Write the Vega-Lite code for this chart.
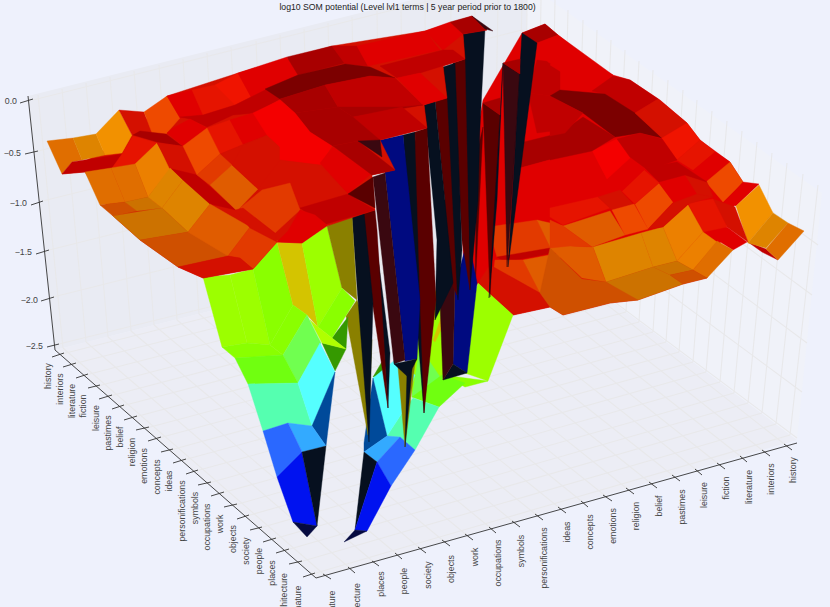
{"$schema":"https://vega.github.io/schema/vega-lite/v6.json","width":830,"height":607,"autosize":"none","padding":0,"background":"#eef1fc","config":{"view":{"stroke":null}},"layer":[
{"data":{"values":[{"type":"Feature","name":"left wall","geometry":{"type":"Polygon","coordinates":[[[28,96],[412,0],[527,0],[521,233],[55,350],[28,96]]]}}]},"mark":{"type":"geoshape","fill":"#e9ebf3","stroke":null},"projection":{"type":"identity","scale":1,"translate":[0,0]}},
{"data":{"values":[{"type":"Feature","name":"right wall","geometry":{"type":"Polygon","coordinates":[[[527,0],[550,0],[822,193],[797,440],[521,233],[527,0]]]}}]},"mark":{"type":"geoshape","fill":"#f0f2f9","stroke":null},"projection":{"type":"identity","scale":1,"translate":[0,0]}},
{"data":{"values":[{"type":"Feature","name":"floor","geometry":{"type":"Polygon","coordinates":[[[55,350],[316,578],[797,440],[521,233],[55,350]]]}}]},"mark":{"type":"geoshape","fill":"#ecedf5","stroke":null},"projection":{"type":"identity","scale":1,"translate":[0,0]}},
{"data":{"values":[
{"type":"Feature","name":"floor terms a","geometry":{"type":"MultiLineString","coordinates":[[[58,355],[525,237]],[[69,365],[537,246]],[[82,376],[550,255]],[[94,387],[562,265]],[[106,397],[575,274]],[[118,407],[588,284]],[[131,418],[600,293]],[[143,429],[613,303]],[[155,439],[626,312]],[[167,451],[639,322]],[[180,461],[653,332]],[[192,472],[666,342]],[[205,484],[679,352]],[[218,494],[693,362]],[[231,506],[706,372]],[[243,517],[720,382]],[[256,529],[734,393]],[[270,540],[748,403]],[[283,551],[762,413]],[[296,563],[776,424]],[[309,575],[790,435]]]}},
{"type":"Feature","name":"floor terms b","geometry":{"type":"MultiLineString","coordinates":[[[327,577],[63,348]],[[352,570],[86,342]],[[376,564],[108,337]],[[399,556],[131,331]],[[422,550],[154,325]],[[446,543],[177,320]],[[469,537],[199,314]],[[493,530],[222,308]],[[516,524],[245,302]],[[539,517],[267,297]],[[562,510],[290,291]],[[585,504],[313,285]],[[608,498],[335,280]],[[630,491],[358,274]],[[653,485],[381,268]],[[676,478],[404,263]],[[699,472],[426,257]],[[721,466],[449,251]],[[744,459],[472,245]],[[766,453],[494,240]],[[788,447],[517,234]]]}},
{"type":"Feature","name":"left wall terms","geometry":{"type":"MultiLineString","coordinates":[[[63,348],[38,95]],[[86,342],[62,89]],[[108,337],[86,83]],[[131,331],[110,77]],[[154,325],[134,71]],[[177,320],[159,65]],[[199,314],[183,59]],[[222,308],[207,53]],[[245,302],[231,47]],[[267,297],[256,41]],[[290,291],[280,35]],[[313,285],[304,29]],[[335,280],[328,23]],[[358,274],[352,17]],[[381,268],[377,11]],[[404,263],[401,5]],[[426,257],[425,0]],[[449,251],[451,0]],[[472,245],[475,0]],[[494,240],[498,0]],[[517,234],[522,0]]]}},
{"type":"Feature","name":"right wall terms","geometry":{"type":"MultiLineString","coordinates":[[[525,237],[527,0]],[[537,246],[541,0]],[[550,255],[555,0]],[[562,265],[568,10]],[[575,274],[583,20]],[[588,284],[597,30]],[[600,293],[611,40]],[[613,303],[625,50]],[[626,312],[639,61]],[[639,322],[653,70]],[[653,332],[668,80]],[[666,342],[683,90]],[[679,352],[697,100]],[[693,362],[712,111]],[[706,372],[727,121]],[[720,382],[742,131]],[[734,393],[757,142]],[[748,403],[772,153]],[[762,413],[787,163]],[[776,424],[803,174]],[[790,435],[818,185]]]}},
{"type":"Feature","name":"z levels","geometry":{"type":"MultiLineString","coordinates":[[[33,100],[433,0]],[[38,151],[522,30]],[[43,201],[522,81]],[[49,250],[522,132]],[[53,297],[522,180]],[[59,344],[522,230]],[[522,30],[818,245]],[[522,81],[812,295]],[[522,132],[807,343]],[[522,185],[802,392]],[[522,233],[797,438]]]}}
]},"mark":{"type":"geoshape","filled":false,"stroke":"#e8e8ea","strokeWidth":1.1},"projection":{"type":"identity","scale":1,"translate":[0,0]}},
{"data":{"values":[
{"type":"Feature","tone":"r2","geometry":{"type":"Polygon","coordinates":[[[522,33],[545,24],[558,35],[613,75],[630,80],[660,100],[687,123],[700,140],[730,162],[743,182],[707,278],[683,284],[638,300],[610,303],[563,315],[550,307],[513,315],[478,283],[465,200],[483,100],[522,33]]]}},
{"type":"Feature","tone":"r4","geometry":{"type":"Polygon","coordinates":[[[537,60],[560,63],[560,97],[528,93],[537,60]]]}},
{"type":"Feature","tone":"r4","geometry":{"type":"Polygon","coordinates":[[[528,93],[560,97],[560,130],[537,133],[528,93]]]}},
{"type":"Feature","tone":"r5","geometry":{"type":"Polygon","coordinates":[[[520,143],[560,133],[560,157],[520,168],[520,143]]]}},
{"type":"Feature","tone":"r2","geometry":{"type":"Polygon","coordinates":[[[520,168],[560,157],[560,197],[510,210],[520,168]]]}},
{"type":"Feature","tone":"r2","geometry":{"type":"Polygon","coordinates":[[[480,210],[510,205],[560,197],[560,220],[488,228],[480,210]]]}},
{"type":"Feature","tone":"o8","geometry":{"type":"Polygon","coordinates":[[[488,227],[537,220],[553,253],[497,257],[488,227]]]}},
{"type":"Feature","tone":"o5","geometry":{"type":"Polygon","coordinates":[[[537,220],[563,226],[573,246],[553,253],[537,220]]]}},
{"type":"Feature","tone":"r4","geometry":{"type":"Polygon","coordinates":[[[497,257],[550,248],[553,253],[505,262],[497,257]]]}},
{"type":"Feature","tone":"o8","geometry":{"type":"Polygon","coordinates":[[[495,260],[523,260],[540,293],[490,300],[495,260]]]}},
{"type":"Feature","tone":"o5","geometry":{"type":"Polygon","coordinates":[[[523,260],[560,253],[560,290],[540,293],[523,260]]]}},
{"type":"Feature","tone":"r3","geometry":{"type":"Polygon","coordinates":[[[478,283],[490,265],[540,293],[550,307],[513,315],[478,283]]]}},
{"type":"Feature","tone":"r5","geometry":{"type":"Polygon","coordinates":[[[522,33],[545,24],[558,35],[535,44],[522,33]]]}},
{"type":"Feature","tone":"r2","geometry":{"type":"Polygon","coordinates":[[[537,43],[558,35],[573,47],[590,62],[570,75],[548,62],[537,43]]]}},
{"type":"Feature","tone":"r2","geometry":{"type":"Polygon","coordinates":[[[550,65],[563,50],[613,75],[592,91],[550,65]]]}},
{"type":"Feature","tone":"r4","geometry":{"type":"Polygon","coordinates":[[[592,91],[613,76],[630,80],[658,99],[635,113],[605,94],[592,91]]]}},
{"type":"Feature","tone":"r6","geometry":{"type":"Polygon","coordinates":[[[550,96],[560,90],[605,94],[635,113],[662,138],[640,133],[615,137],[583,113],[550,96]]]}},
{"type":"Feature","tone":"r3","geometry":{"type":"Polygon","coordinates":[[[635,113],[658,99],[687,123],[662,138],[635,113]]]}},
{"type":"Feature","tone":"r1","geometry":{"type":"Polygon","coordinates":[[[662,138],[687,123],[700,140],[677,160],[662,138]]]}},
{"type":"Feature","tone":"rc","geometry":{"type":"Polygon","coordinates":[[[677,160],[700,140],[715,152],[693,170],[677,160]]]}},
{"type":"Feature","tone":"r2","geometry":{"type":"Polygon","coordinates":[[[693,171],[715,152],[730,162],[706,182],[693,171]]]}},
{"type":"Feature","tone":"o7","geometry":{"type":"Polygon","coordinates":[[[706,182],[730,162],[743,182],[723,202],[706,182]]]}},
{"type":"Feature","tone":"r2","geometry":{"type":"Polygon","coordinates":[[[725,203],[743,182],[759,184],[736,206],[725,203]]]}},
{"type":"Feature","tone":"r4","geometry":{"type":"Polygon","coordinates":[[[748,242],[766,249],[778,260],[762,252],[748,242]]]}},
{"type":"Feature","tone":"o1","geometry":{"type":"Polygon","coordinates":[[[736,206],[759,185],[773,213],[748,243],[736,206]]]}},
{"type":"Feature","tone":"o2","geometry":{"type":"Polygon","coordinates":[[[748,243],[773,213],[788,223],[766,248],[748,243]]]}},
{"type":"Feature","tone":"o3","geometry":{"type":"Polygon","coordinates":[[[766,249],[788,223],[804,231],[778,260],[766,249]]]}},
{"type":"Feature","tone":"r3","geometry":{"type":"Polygon","coordinates":[[[713,199],[735,207],[748,242],[727,227],[713,199]]]}},
{"type":"Feature","tone":"r2","geometry":{"type":"Polygon","coordinates":[[[705,232],[727,227],[747,242],[733,250],[717,240],[705,232]]]}},
{"type":"Feature","tone":"rc","geometry":{"type":"Polygon","coordinates":[[[688,203],[713,199],[727,227],[703,232],[688,203]]]}},
{"type":"Feature","tone":"o1b","geometry":{"type":"Polygon","coordinates":[[[663,227],[688,205],[703,232],[677,261],[663,227]]]}},
{"type":"Feature","tone":"o1b","geometry":{"type":"Polygon","coordinates":[[[677,261],[703,232],[717,242],[693,270],[677,261]]]}},
{"type":"Feature","tone":"o3","geometry":{"type":"Polygon","coordinates":[[[693,270],[717,241],[733,250],[707,278],[693,270]]]}},
{"type":"Feature","tone":"o2","geometry":{"type":"Polygon","coordinates":[[[641,233],[663,227],[677,261],[653,267],[641,233]]]}},
{"type":"Feature","tone":"o2","geometry":{"type":"Polygon","coordinates":[[[593,247],[641,233],[653,267],[606,282],[593,247]]]}},
{"type":"Feature","tone":"o4","geometry":{"type":"Polygon","coordinates":[[[606,282],[653,267],[670,275],[683,284],[638,300],[633,300],[606,282]]]}},
{"type":"Feature","tone":"o4","geometry":{"type":"Polygon","coordinates":[[[653,267],[677,261],[693,270],[670,275],[653,267]]]}},
{"type":"Feature","tone":"o6","geometry":{"type":"Polygon","coordinates":[[[670,275],[693,270],[707,278],[683,284],[670,275]]]}},
{"type":"Feature","tone":"o7","geometry":{"type":"Polygon","coordinates":[[[635,204],[659,183],[673,202],[648,229],[635,204]]]}},
{"type":"Feature","tone":"r2","geometry":{"type":"Polygon","coordinates":[[[659,183],[685,175],[697,193],[674,203],[659,183]]]}},
{"type":"Feature","tone":"r3","geometry":{"type":"Polygon","coordinates":[[[685,175],[707,182],[713,197],[697,194],[685,175]]]}},
{"type":"Feature","tone":"r3","geometry":{"type":"Polygon","coordinates":[[[673,203],[697,194],[713,197],[688,204],[663,227],[648,229],[673,203]]]}},
{"type":"Feature","tone":"rc","geometry":{"type":"Polygon","coordinates":[[[622,191],[644,170],[659,183],[635,204],[622,191]]]}},
{"type":"Feature","tone":"r2","geometry":{"type":"Polygon","coordinates":[[[607,179],[630,158],[644,170],[622,191],[607,179]]]}},
{"type":"Feature","tone":"rb","geometry":{"type":"Polygon","coordinates":[[[592,151],[617,139],[630,158],[607,179],[592,151]]]}},
{"type":"Feature","tone":"r4","geometry":{"type":"Polygon","coordinates":[[[617,139],[640,133],[662,139],[677,160],[658,167],[645,168],[630,157],[617,139]]]}},
{"type":"Feature","tone":"r4","geometry":{"type":"Polygon","coordinates":[[[645,168],[677,162],[707,182],[685,175],[659,182],[645,168]]]}},
{"type":"Feature","tone":"r2","geometry":{"type":"Polygon","coordinates":[[[550,160],[592,151],[605,178],[550,197],[550,160]]]}},
{"type":"Feature","tone":"r5","geometry":{"type":"Polygon","coordinates":[[[550,140],[583,117],[615,137],[592,151],[550,160],[550,140]]]}},
{"type":"Feature","tone":"r4","geometry":{"type":"Polygon","coordinates":[[[550,96],[583,113],[565,133],[550,136],[550,96]]]}},
{"type":"Feature","tone":"r2","geometry":{"type":"Polygon","coordinates":[[[550,197],[605,180],[620,190],[550,207],[550,197]]]}},
{"type":"Feature","tone":"rc","geometry":{"type":"Polygon","coordinates":[[[550,208],[598,197],[610,208],[563,225],[550,217],[550,208]]]}},
{"type":"Feature","tone":"r3","geometry":{"type":"Polygon","coordinates":[[[598,197],[620,190],[633,204],[612,210],[598,197]]]}},
{"type":"Feature","tone":"o5","geometry":{"type":"Polygon","coordinates":[[[563,226],[610,211],[625,235],[592,247],[563,226]]]}},
{"type":"Feature","tone":"o7","geometry":{"type":"Polygon","coordinates":[[[612,210],[634,204],[648,229],[625,235],[612,210]]]}},
{"type":"Feature","tone":"o5","geometry":{"type":"Polygon","coordinates":[[[550,248],[570,246],[593,247],[606,282],[582,278],[550,248]]]}},
{"type":"Feature","tone":"o8","geometry":{"type":"Polygon","coordinates":[[[550,220],[563,226],[592,247],[570,246],[550,248],[550,220]]]}},
{"type":"Feature","tone":"o6","geometry":{"type":"Polygon","coordinates":[[[550,248],[582,279],[606,282],[638,300],[610,303],[563,315],[550,307],[540,293],[550,248]]]}},
{"type":"Feature","tone":"y1","geometry":{"type":"Polygon","coordinates":[[[478,283],[492,296],[513,315],[488,381],[462,372],[466,330],[478,283]]]}},
{"type":"Feature","tone":"y1","geometry":{"type":"Polygon","coordinates":[[[438,287],[445,300],[443,375],[412,397],[412,330],[438,287]]]}},
{"type":"Feature","tone":"y2","geometry":{"type":"Polygon","coordinates":[[[433,340],[442,315],[441,330],[435,342],[433,340]]]}},
{"type":"Feature","tone":"g3","geometry":{"type":"Polygon","coordinates":[[[443,375],[488,381],[465,387],[443,375]]]}},
{"type":"Feature","tone":"g1","geometry":{"type":"Polygon","coordinates":[[[420,347],[442,380],[433,397],[412,397],[420,347]]]}},
{"type":"Feature","tone":"g2","geometry":{"type":"Polygon","coordinates":[[[442,375],[465,383],[439,407],[412,397],[442,375]]]}},
{"type":"Feature","tone":"c2","geometry":{"type":"Polygon","coordinates":[[[402,413],[413,398],[439,407],[415,450],[400,437],[387,436],[402,413]]]}},
{"type":"Feature","tone":"g4","geometry":{"type":"Polygon","coordinates":[[[373,377],[383,360],[385,375],[373,377]]]}},
{"type":"Feature","tone":"c1","geometry":{"type":"Polygon","coordinates":[[[373,378],[395,360],[415,375],[402,413],[387,436],[373,378]]]}},
{"type":"Feature","tone":"b5","geometry":{"type":"Polygon","coordinates":[[[373,378],[387,436],[364,452],[364,443],[373,378]]]}},
{"type":"Feature","tone":"b4","geometry":{"type":"Polygon","coordinates":[[[364,452],[387,436],[400,437],[377,462],[364,452]]]}},
{"type":"Feature","tone":"b3","geometry":{"type":"Polygon","coordinates":[[[377,462],[400,437],[415,450],[391,486],[377,462]]]}},
{"type":"Feature","tone":"n1","geometry":{"type":"Polygon","coordinates":[[[364,452],[377,462],[355,530],[364,452]]]}},
{"type":"Feature","tone":"b2","geometry":{"type":"Polygon","coordinates":[[[377,462],[391,486],[367,531],[355,530],[377,462]]]}},
{"type":"Feature","tone":"n2","geometry":{"type":"Polygon","coordinates":[[[355,530],[367,531],[344,542],[355,530]]]}},
{"type":"Feature","tone":"y3","geometry":{"type":"Polygon","coordinates":[[[398,367],[415,363],[405,447],[398,367]]]}},
{"type":"Feature","tone":"n1","geometry":{"type":"Polygon","coordinates":[[[407,372],[412,369],[405,447],[407,372]]]}},
{"type":"Feature","tone":"r2","geometry":{"type":"Polygon","coordinates":[[[458,165],[482,130],[490,240],[478,283],[466,300],[458,165]]]}},
{"type":"Feature","tone":"y3","geometry":{"type":"Polygon","coordinates":[[[346,316],[357,300],[372,340],[368,435],[346,316]]]}},
{"type":"Feature","tone":"r7","geometry":{"type":"Polygon","coordinates":[[[483,103],[500,115],[490,297],[483,103]]]}},
{"type":"Feature","tone":"n1","geometry":{"type":"Polygon","coordinates":[[[503,63],[497,200],[489,298],[500,115],[503,63]]]}},
{"type":"Feature","tone":"r8","geometry":{"type":"Polygon","coordinates":[[[503,63],[520,74],[507,267],[503,63]]]}},
{"type":"Feature","tone":"n1","geometry":{"type":"Polygon","coordinates":[[[522,33],[537,43],[508,267],[522,33]]]}},
{"type":"Feature","tone":"r5","geometry":{"type":"Polygon","coordinates":[[[483,103],[500,98],[500,115],[483,103]]]}},
{"type":"Feature","tone":"r5","geometry":{"type":"Polygon","coordinates":[[[503,63],[520,59],[520,74],[503,63]]]}},
{"type":"Feature","tone":"r7","geometry":{"type":"Polygon","coordinates":[[[477,153],[483,127],[475,293],[477,153]]]}},
{"type":"Feature","tone":"b1","geometry":{"type":"Polygon","coordinates":[[[453,364],[467,373],[477,283],[468,237],[455,287],[453,364]]]}},
{"type":"Feature","tone":"n1","geometry":{"type":"Polygon","coordinates":[[[443,380],[453,364],[467,373],[443,380]]]}},
{"type":"Feature","tone":"r8","geometry":{"type":"Polygon","coordinates":[[[436,200],[452,200],[455,287],[453,364],[443,380],[436,200]]]}},
{"type":"Feature","tone":"n1","geometry":{"type":"Polygon","coordinates":[[[463,34],[485,29],[480,127],[478,200],[470,290],[463,34]]]}},
{"type":"Feature","tone":"r7","geometry":{"type":"Polygon","coordinates":[[[453,63],[465,59],[470,290],[462,240],[453,63]]]}},
{"type":"Feature","tone":"n1","geometry":{"type":"Polygon","coordinates":[[[443,67],[455,63],[462,250],[458,300],[452,250],[443,67]]]}},
{"type":"Feature","tone":"r7","geometry":{"type":"Polygon","coordinates":[[[435,100],[447,98],[457,295],[453,287],[435,100]]]}},
{"type":"Feature","tone":"n1","geometry":{"type":"Polygon","coordinates":[[[424,105],[435,100],[453,283],[435,320],[437,240],[424,105]]]}},
{"type":"Feature","tone":"n1","geometry":{"type":"Polygon","coordinates":[[[403,135],[415,132],[432,300],[424,413],[415,300],[403,135]]]}},
{"type":"Feature","tone":"r7","geometry":{"type":"Polygon","coordinates":[[[415,132],[427,128],[436,300],[424,413],[420,300],[415,132]]]}},
{"type":"Feature","tone":"b1","geometry":{"type":"Polygon","coordinates":[[[380,140],[403,135],[420,300],[417,359],[405,361],[385,173],[380,140]]]}},
{"type":"Feature","tone":"r8","geometry":{"type":"Polygon","coordinates":[[[373,177],[385,173],[405,360],[394,364],[373,177]]]}},
{"type":"Feature","tone":"n1","geometry":{"type":"Polygon","coordinates":[[[394,364],[417,359],[408,377],[394,364]]]}},
{"type":"Feature","tone":"n1","geometry":{"type":"Polygon","coordinates":[[[376,240],[390,353],[388,408],[376,240]]]}},
{"type":"Feature","tone":"r7","geometry":{"type":"Polygon","coordinates":[[[363,213],[375,210],[377,230],[388,408],[372,300],[363,213]]]}},
{"type":"Feature","tone":"n1","geometry":{"type":"Polygon","coordinates":[[[352,217],[364,212],[373,303],[369,442],[358,300],[352,217]]]}},
{"type":"Feature","tone":"r7","geometry":{"type":"Polygon","coordinates":[[[443,50],[463,35],[465,60],[443,50]]]}},
{"type":"Feature","tone":"r7","geometry":{"type":"Polygon","coordinates":[[[420,73],[443,66],[447,98],[420,73]]]}},
{"type":"Feature","tone":"r7","geometry":{"type":"Polygon","coordinates":[[[400,107],[424,104],[427,128],[400,107]]]}},
{"type":"Feature","tone":"y1","geometry":{"type":"Polygon","coordinates":[[[203,277],[230,275],[247,343],[222,347],[203,277]]]}},
{"type":"Feature","tone":"y1","geometry":{"type":"Polygon","coordinates":[[[230,275],[253,269],[270,345],[247,343],[230,275]]]}},
{"type":"Feature","tone":"g3","geometry":{"type":"Polygon","coordinates":[[[253,269],[277,242],[293,305],[270,345],[253,269]]]}},
{"type":"Feature","tone":"y2","geometry":{"type":"Polygon","coordinates":[[[277,242],[302,243],[318,327],[307,315],[293,305],[277,242]]]}},
{"type":"Feature","tone":"y1","geometry":{"type":"Polygon","coordinates":[[[302,243],[327,226],[342,288],[318,327],[302,243]]]}},
{"type":"Feature","tone":"y3","geometry":{"type":"Polygon","coordinates":[[[327,226],[352,215],[357,300],[342,288],[327,226]]]}},
{"type":"Feature","tone":"g4","geometry":{"type":"Polygon","coordinates":[[[332,338],[348,317],[346,349],[332,338]]]}},
{"type":"Feature","tone":"g4","geometry":{"type":"Polygon","coordinates":[[[322,343],[346,349],[335,371],[322,343]]]}},
{"type":"Feature","tone":"g3","geometry":{"type":"Polygon","coordinates":[[[342,288],[355,301],[332,338],[318,327],[342,288]]]}},
{"type":"Feature","tone":"y4","geometry":{"type":"Polygon","coordinates":[[[310,320],[318,327],[332,338],[346,349],[322,343],[310,320]]]}},
{"type":"Feature","tone":"g3","geometry":{"type":"Polygon","coordinates":[[[270,345],[293,305],[307,315],[283,355],[270,345]]]}},
{"type":"Feature","tone":"g1","geometry":{"type":"Polygon","coordinates":[[[283,355],[307,315],[321,343],[298,383],[283,355]]]}},
{"type":"Feature","tone":"g3","geometry":{"type":"Polygon","coordinates":[[[222,347],[247,343],[270,345],[283,355],[255,357],[235,358],[222,347]]]}},
{"type":"Feature","tone":"g2","geometry":{"type":"Polygon","coordinates":[[[235,358],[283,355],[298,383],[248,384],[235,358]]]}},
{"type":"Feature","tone":"c2","geometry":{"type":"Polygon","coordinates":[[[248,384],[298,383],[312,426],[288,423],[263,431],[248,384]]]}},
{"type":"Feature","tone":"c1","geometry":{"type":"Polygon","coordinates":[[[298,383],[320,343],[335,372],[312,426],[298,383]]]}},
{"type":"Feature","tone":"b5","geometry":{"type":"Polygon","coordinates":[[[335,372],[326,446],[312,426],[335,372]]]}},
{"type":"Feature","tone":"b4","geometry":{"type":"Polygon","coordinates":[[[288,423],[312,426],[326,446],[302,452],[288,423]]]}},
{"type":"Feature","tone":"b3","geometry":{"type":"Polygon","coordinates":[[[288,423],[302,452],[277,477],[263,431],[288,423]]]}},
{"type":"Feature","tone":"b2","geometry":{"type":"Polygon","coordinates":[[[302,452],[317,526],[293,522],[277,477],[302,452]]]}},
{"type":"Feature","tone":"n1","geometry":{"type":"Polygon","coordinates":[[[302,452],[326,446],[317,526],[302,452]]]}},
{"type":"Feature","tone":"n2","geometry":{"type":"Polygon","coordinates":[[[293,522],[317,526],[307,537],[293,522]]]}},
{"type":"Feature","tone":"r3","geometry":{"type":"Polygon","coordinates":[[[167,96],[238,73],[332,46],[425,31],[472,16],[487,30],[463,34],[465,59],[443,66],[447,98],[424,105],[427,128],[380,140],[395,170],[372,175],[375,210],[327,226],[302,243],[277,242],[253,269],[203,278],[178,267],[140,240],[113,216],[85,172],[62,174],[132,135],[167,96]]]}},
{"type":"Feature","tone":"o3","geometry":{"type":"Polygon","coordinates":[[[47,141],[73,138],[82,160],[72,162],[62,174],[47,141]]]}},
{"type":"Feature","tone":"o2","geometry":{"type":"Polygon","coordinates":[[[73,138],[96,134],[105,155],[82,160],[73,138]]]}},
{"type":"Feature","tone":"o1","geometry":{"type":"Polygon","coordinates":[[[96,134],[119,110],[132,135],[122,153],[105,155],[96,134]]]}},
{"type":"Feature","tone":"r3","geometry":{"type":"Polygon","coordinates":[[[119,110],[144,112],[152,133],[132,135],[119,110]]]}},
{"type":"Feature","tone":"o7","geometry":{"type":"Polygon","coordinates":[[[144,112],[167,96],[180,118],[166,134],[152,133],[144,112]]]}},
{"type":"Feature","tone":"r4","geometry":{"type":"Polygon","coordinates":[[[62,174],[72,162],[122,154],[135,164],[112,168],[85,172],[62,174]]]}},
{"type":"Feature","tone":"r5","geometry":{"type":"Polygon","coordinates":[[[133,135],[140,131],[166,134],[182,146],[157,142],[133,135]]]}},
{"type":"Feature","tone":"rc","geometry":{"type":"Polygon","coordinates":[[[133,136],[157,143],[135,164],[112,168],[122,154],[133,136]]]}},
{"type":"Feature","tone":"o1b","geometry":{"type":"Polygon","coordinates":[[[157,143],[170,170],[148,197],[135,164],[157,143]]]}},
{"type":"Feature","tone":"o3","geometry":{"type":"Polygon","coordinates":[[[85,172],[111,168],[125,202],[100,205],[85,172]]]}},
{"type":"Feature","tone":"o3","geometry":{"type":"Polygon","coordinates":[[[111,168],[135,164],[148,197],[125,202],[111,168]]]}},
{"type":"Feature","tone":"o6","geometry":{"type":"Polygon","coordinates":[[[100,205],[125,202],[137,211],[113,216],[100,205]]]}},
{"type":"Feature","tone":"o4","geometry":{"type":"Polygon","coordinates":[[[125,202],[148,197],[162,208],[137,211],[125,202]]]}},
{"type":"Feature","tone":"o2","geometry":{"type":"Polygon","coordinates":[[[170,168],[183,180],[162,208],[148,197],[170,168]]]}},
{"type":"Feature","tone":"o2","geometry":{"type":"Polygon","coordinates":[[[183,180],[210,204],[188,232],[162,208],[183,180]]]}},
{"type":"Feature","tone":"r3","geometry":{"type":"Polygon","coordinates":[[[157,143],[182,146],[197,175],[172,169],[157,143]]]}},
{"type":"Feature","tone":"r4","geometry":{"type":"Polygon","coordinates":[[[172,169],[197,175],[236,210],[210,204],[183,180],[172,169]]]}},
{"type":"Feature","tone":"o4","geometry":{"type":"Polygon","coordinates":[[[113,216],[137,212],[162,208],[188,232],[140,240],[113,216]]]}},
{"type":"Feature","tone":"o6","geometry":{"type":"Polygon","coordinates":[[[140,240],[188,232],[200,233],[228,256],[178,267],[140,240]]]}},
{"type":"Feature","tone":"o5","geometry":{"type":"Polygon","coordinates":[[[188,232],[210,204],[250,227],[228,256],[188,232]]]}},
{"type":"Feature","tone":"o8","geometry":{"type":"Polygon","coordinates":[[[250,227],[278,241],[253,269],[240,258],[228,256],[250,227]]]}},
{"type":"Feature","tone":"r3","geometry":{"type":"Polygon","coordinates":[[[178,267],[228,256],[240,258],[253,269],[203,278],[178,267]]]}},
{"type":"Feature","tone":"r2","geometry":{"type":"Polygon","coordinates":[[[167,96],[192,90],[203,115],[180,118],[167,96]]]}},
{"type":"Feature","tone":"rc","geometry":{"type":"Polygon","coordinates":[[[192,90],[215,85],[235,105],[203,115],[192,90]]]}},
{"type":"Feature","tone":"r1","geometry":{"type":"Polygon","coordinates":[[[215,85],[238,73],[251,97],[235,105],[215,85]]]}},
{"type":"Feature","tone":"r2","geometry":{"type":"Polygon","coordinates":[[[238,73],[287,57],[298,75],[265,90],[251,97],[238,73]]]}},
{"type":"Feature","tone":"r5","geometry":{"type":"Polygon","coordinates":[[[287,57],[332,46],[345,63],[298,75],[287,57]]]}},
{"type":"Feature","tone":"r4","geometry":{"type":"Polygon","coordinates":[[[332,46],[357,46],[368,66],[345,64],[332,46]]]}},
{"type":"Feature","tone":"r2","geometry":{"type":"Polygon","coordinates":[[[357,46],[425,31],[440,50],[368,66],[357,46]]]}},
{"type":"Feature","tone":"r2","geometry":{"type":"Polygon","coordinates":[[[425,31],[450,22],[463,34],[443,50],[425,31]]]}},
{"type":"Feature","tone":"r5","geometry":{"type":"Polygon","coordinates":[[[450,22],[472,16],[487,30],[463,34],[450,22]]]}},
{"type":"Feature","tone":"r8","geometry":{"type":"Polygon","coordinates":[[[472,16],[493,31],[485,29],[472,16]]]}},
{"type":"Feature","tone":"r4","geometry":{"type":"Polygon","coordinates":[[[180,117],[203,115],[235,105],[251,97],[265,90],[280,85],[280,99],[255,113],[233,115],[207,127],[190,119],[180,117]]]}},
{"type":"Feature","tone":"r6","geometry":{"type":"Polygon","coordinates":[[[265,89],[298,75],[345,64],[370,67],[395,78],[370,76],[325,85],[280,99],[265,89]]]}},
{"type":"Feature","tone":"r2","geometry":{"type":"Polygon","coordinates":[[[167,133],[173,128],[190,119],[207,128],[183,146],[167,133]]]}},
{"type":"Feature","tone":"rc","geometry":{"type":"Polygon","coordinates":[[[207,128],[230,120],[243,144],[220,154],[207,128]]]}},
{"type":"Feature","tone":"o7","geometry":{"type":"Polygon","coordinates":[[[183,146],[207,128],[220,154],[197,175],[183,146]]]}},
{"type":"Feature","tone":"r2","geometry":{"type":"Polygon","coordinates":[[[230,120],[253,113],[268,135],[243,144],[230,120]]]}},
{"type":"Feature","tone":"r3","geometry":{"type":"Polygon","coordinates":[[[220,154],[243,145],[262,165],[233,167],[220,154]]]}},
{"type":"Feature","tone":"o8","geometry":{"type":"Polygon","coordinates":[[[197,175],[220,154],[232,165],[210,185],[197,175]]]}},
{"type":"Feature","tone":"o5","geometry":{"type":"Polygon","coordinates":[[[210,185],[232,165],[258,189],[237,211],[210,185]]]}},
{"type":"Feature","tone":"r3","geometry":{"type":"Polygon","coordinates":[[[243,145],[267,135],[280,147],[280,173],[258,189],[232,165],[243,145]]]}},
{"type":"Feature","tone":"r5","geometry":{"type":"Polygon","coordinates":[[[280,99],[325,85],[338,107],[295,113],[280,99]]]}},
{"type":"Feature","tone":"r4","geometry":{"type":"Polygon","coordinates":[[[325,85],[370,76],[395,78],[423,105],[400,107],[338,107],[325,85]]]}},
{"type":"Feature","tone":"r4","geometry":{"type":"Polygon","coordinates":[[[380,66],[443,50],[453,50],[465,59],[420,73],[397,78],[380,66]]]}},
{"type":"Feature","tone":"r2","geometry":{"type":"Polygon","coordinates":[[[397,78],[420,73],[447,98],[423,105],[397,78]]]}},
{"type":"Feature","tone":"r5","geometry":{"type":"Polygon","coordinates":[[[338,107],[400,107],[423,105],[353,117],[338,107]]]}},
{"type":"Feature","tone":"r4","geometry":{"type":"Polygon","coordinates":[[[353,117],[402,107],[427,128],[380,140],[353,117]]]}},
{"type":"Feature","tone":"r5","geometry":{"type":"Polygon","coordinates":[[[295,113],[338,107],[353,117],[380,140],[358,141],[332,146],[310,132],[295,113]]]}},
{"type":"Feature","tone":"rb","geometry":{"type":"Polygon","coordinates":[[[253,113],[280,100],[295,113],[310,132],[332,146],[320,165],[280,160],[280,147],[267,135],[253,113]]]}},
{"type":"Feature","tone":"r2","geometry":{"type":"Polygon","coordinates":[[[320,163],[333,147],[372,173],[348,194],[320,163]]]}},
{"type":"Feature","tone":"r5","geometry":{"type":"Polygon","coordinates":[[[333,146],[358,141],[395,170],[372,175],[333,146]]]}},
{"type":"Feature","tone":"r8","geometry":{"type":"Polygon","coordinates":[[[358,141],[380,140],[382,157],[358,141]]]}},
{"type":"Feature","tone":"r3","geometry":{"type":"Polygon","coordinates":[[[258,189],[280,160],[320,165],[348,194],[300,208],[290,183],[258,189]]]}},
{"type":"Feature","tone":"r4","geometry":{"type":"Polygon","coordinates":[[[300,208],[348,194],[375,210],[323,225],[300,208]]]}},
{"type":"Feature","tone":"r7","geometry":{"type":"Polygon","coordinates":[[[348,194],[373,177],[375,208],[348,194]]]}},
{"type":"Feature","tone":"o8","geometry":{"type":"Polygon","coordinates":[[[240,208],[262,190],[290,183],[300,210],[275,233],[240,208]]]}},
{"type":"Feature","tone":"r3","geometry":{"type":"Polygon","coordinates":[[[235,210],[243,208],[275,233],[277,242],[250,228],[235,210]]]}},
{"type":"Feature","tone":"r2","geometry":{"type":"Polygon","coordinates":[[[288,231],[300,210],[315,215],[327,225],[302,243],[277,242],[288,231]]]}}
]},"mark":{"type":"geoshape","strokeWidth":0.4},"projection":{"type":"identity","scale":1,"translate":[0,0]},"encoding":{
"fill":{"field":"tone","type":"nominal","legend":null,"scale":{"domain":["o1","o1b","o2","o3","o4","o5","o6","o7","o8","r1","r2","r3","r4","r5","r6","r7","r8","rb","rc","n1","n2","b1","b2","b3","b4","b5","c1","c2","g1","g2","g3","g4","y1","y2","y3","y4"],"range":["#f29100","#ec8000","#de8400","#e06e00","#cc7200","#e05c00","#cf5000","#ee4a00","#e23a00","#f01400","#e00000","#d41000","#c00000","#a80000","#7c0000","#5a0000","#3a0810","#f40000","#e61400","#06101f","#050a40","#000a80","#0012f0","#2a68ff","#33aaff","#004a9a","#55ffff","#55ffb0","#70ff50","#70ff10","#8aff00","#359900","#9cff00","#d4c400","#8a8000","#b0ff00"]}},
"stroke":{"field":"tone","type":"nominal","legend":null,"scale":{"domain":["o1","o1b","o2","o3","o4","o5","o6","o7","o8","r1","r2","r3","r4","r5","r6","r7","r8","rb","rc","n1","n2","b1","b2","b3","b4","b5","c1","c2","g1","g2","g3","g4","y1","y2","y3","y4"],"range":["#f29100","#ec8000","#de8400","#e06e00","#cc7200","#e05c00","#cf5000","#ee4a00","#e23a00","#f01400","#e00000","#d41000","#c00000","#a80000","#7c0000","#5a0000","#3a0810","#f40000","#e61400","#06101f","#050a40","#000a80","#0012f0","#2a68ff","#33aaff","#004a9a","#55ffff","#55ffb0","#70ff50","#70ff10","#8aff00","#359900","#9cff00","#d4c400","#8a8000","#b0ff00"]}}
}},
{"data":{"values":[
{"type":"Feature","name":"axis lines","geometry":{"type":"MultiLineString","coordinates":[[[28,96],[55,350],[316,578],[797,443]]]}},
{"type":"Feature","name":"z ticks","geometry":{"type":"MultiLineString","coordinates":[[[20,103],[33,99]],[[25,154],[38,151]],[[31,205],[43,201]],[[36,254],[49,250]],[[41,301],[54,297]],[[47,347],[59,344]]]}},
{"type":"Feature","name":"left ticks","geometry":{"type":"MultiLineString","coordinates":[[[52,357],[64,353]],[[63,367],[76,363]],[[76,378],[88,374]],[[88,388],[100,385]],[[99,399],[112,395]],[[112,409],[124,405]],[[124,420],[137,416]],[[136,430],[149,427]],[[148,441],[161,437]],[[161,452],[173,449]],[[173,463],[186,459]],[[186,474],[198,470]],[[198,485],[211,482]],[[211,496],[224,492]],[[224,507],[237,504]],[[237,519],[249,515]],[[250,530],[262,527]],[[263,542],[276,538]],[[276,553],[289,549]],[[289,564],[302,561]],[[303,577],[315,573]]]}},
{"type":"Feature","name":"right ticks","geometry":{"type":"MultiLineString","coordinates":[[[323,574],[331,579]],[[348,567],[355,573]],[[372,561],[379,566]],[[395,553],[402,559]],[[418,547],[426,553]],[[442,540],[450,546]],[[465,534],[473,540]],[[489,527],[496,533]],[[512,521],[520,527]],[[535,514],[543,520]],[[558,507],[566,513]],[[581,501],[588,507]],[[603,495],[612,501]],[[626,488],[634,494]],[[649,482],[657,488]],[[672,475],[680,481]],[[695,469],[702,475]],[[717,463],[725,469]],[[740,456],[747,462]],[[762,450],[770,456]],[[784,444],[792,450]]]}}
]},"mark":{"type":"geoshape","filled":false,"stroke":"#333333","strokeWidth":0.9},"projection":{"type":"identity","scale":1,"translate":[0,0]}},
{"data":{"values":[
{"term":"history","lon":48,"lat":376},{"term":"interiors","lon":60,"lat":389},{"term":"literature","lon":72,"lat":401},{"term":"fiction","lon":83,"lat":406},{"term":"leisure","lon":96,"lat":418},{"term":"pastimes","lon":108,"lat":433},{"term":"belief","lon":120,"lat":437},{"term":"religion","lon":132,"lat":452},{"term":"emotions","lon":144,"lat":466},{"term":"concepts","lon":157,"lat":477},{"term":"ideas","lon":169,"lat":481},{"term":"personifications","lon":182,"lat":511},{"term":"symbols","lon":195,"lat":508},{"term":"occupations","lon":207,"lat":527},{"term":"work","lon":220,"lat":524},{"term":"objects","lon":233,"lat":539},{"term":"society","lon":246,"lat":551},{"term":"people","lon":259,"lat":561},{"term":"places","lon":272,"lat":573},{"term":"architecture","lon":284,"lat":596},{"term":"nature","lon":298,"lat":598},
{"term":"nature","lon":332,"lat":603},{"term":"architecture","lon":357,"lat":606},{"term":"places","lon":381,"lat":584},{"term":"people","lon":404,"lat":581},{"term":"society","lon":428,"lat":575},{"term":"objects","lon":451,"lat":569},{"term":"work","lon":475,"lat":557},{"term":"occupations","lon":498,"lat":563},{"term":"symbols","lon":521,"lat":551},{"term":"personifications","lon":544,"lat":558},{"term":"ideas","lon":567,"lat":532},{"term":"concepts","lon":590,"lat":532},{"term":"emotions","lon":613,"lat":526},{"term":"religion","lon":636,"lat":516},{"term":"belief","lon":659,"lat":506},{"term":"pastimes","lon":682,"lat":507},{"term":"leisure","lon":704,"lat":495},{"term":"fiction","lon":726,"lat":488},{"term":"literature","lon":749,"lat":487},{"term":"interiors","lon":771,"lat":479},{"term":"history","lon":793,"lat":470}
]},"mark":{"type":"text","font":"Liberation Sans","fontSize":8.8,"angle":270,"align":"center","baseline":"middle","color":"#444444"},"projection":{"type":"identity","scale":1,"translate":[0,0]},"encoding":{"longitude":{"field":"lon","type":"quantitative"},"latitude":{"field":"lat","type":"quantitative"},"text":{"field":"term","type":"nominal"}}},
{"data":{"values":[{"label":"0.0","lon":17,"lat":101},{"label":"−0.5","lon":21,"lat":153},{"label":"−1.0","lon":27,"lat":203},{"label":"−1.5","lon":32,"lat":252},{"label":"−2.0","lon":38,"lat":300},{"label":"−2.5","lon":43,"lat":346}]},"mark":{"type":"text","font":"Liberation Sans","fontSize":8.8,"align":"right","baseline":"middle","color":"#444444"},"projection":{"type":"identity","scale":1,"translate":[0,0]},"encoding":{"longitude":{"field":"lon","type":"quantitative"},"latitude":{"field":"lat","type":"quantitative"},"text":{"field":"label","type":"nominal"}}},
{"data":{"values":[{"label":"log10 SOM potential (Level lvl1 terms | 5 year period prior to 1800)","lon":407.5,"lat":7}]},"mark":{"type":"text","font":"Liberation Sans","fontSize":8.7,"align":"center","baseline":"middle","color":"#222222"},"projection":{"type":"identity","scale":1,"translate":[0,0]},"encoding":{"longitude":{"field":"lon","type":"quantitative"},"latitude":{"field":"lat","type":"quantitative"},"text":{"field":"label","type":"nominal"}}}
]}
